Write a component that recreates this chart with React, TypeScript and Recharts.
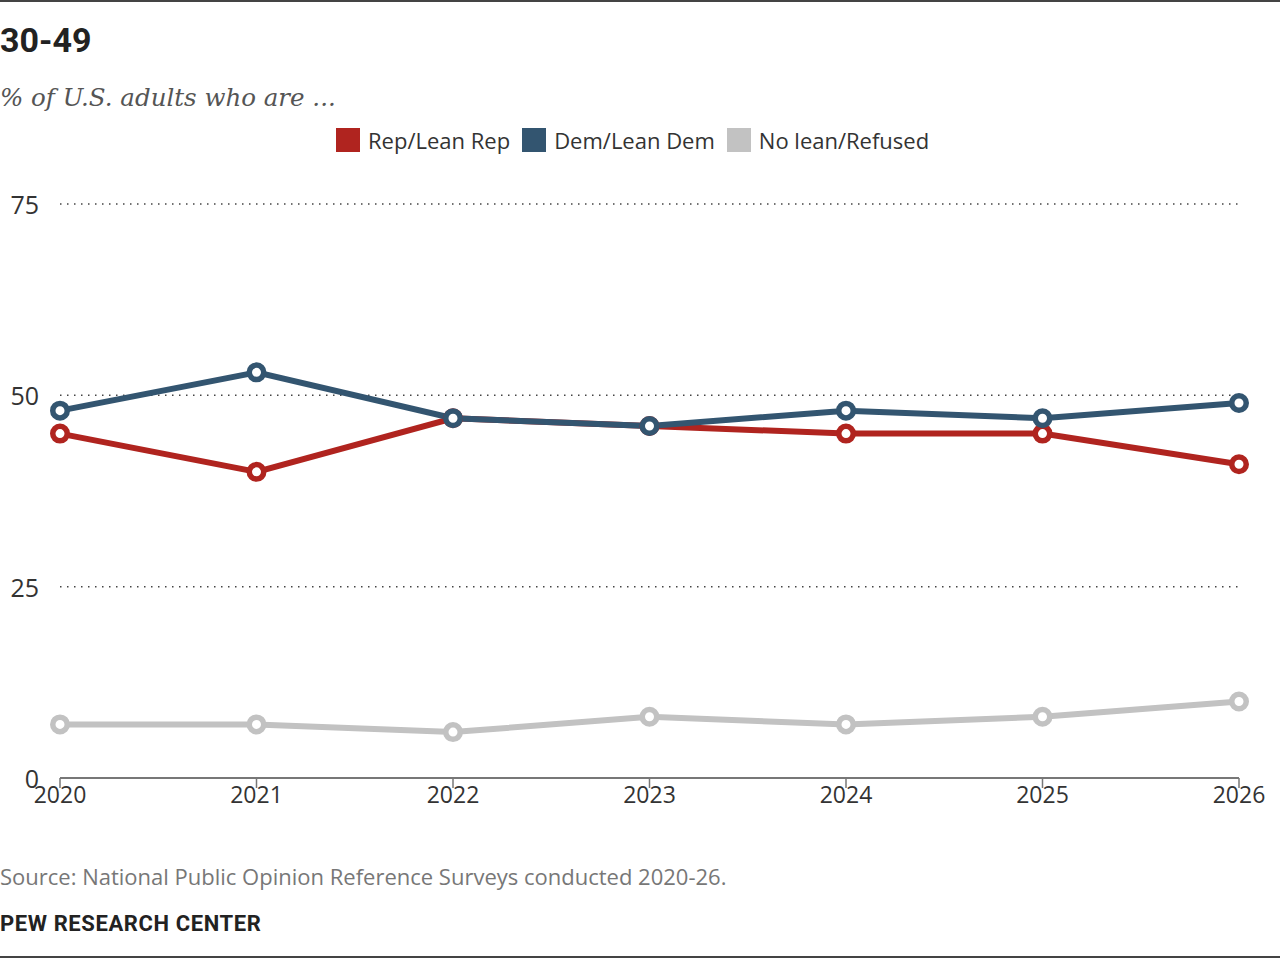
/*
 * Party affiliation among adults ages 30-49, 2020-2026.
 * Three-series line chart in Recharts with hollow point markers.
 */
import { Line, LineChart, ReferenceLine, XAxis, YAxis } from 'recharts';

const years = ['2020', '2021', '2022', '2023', '2024', '2025', '2026'];
const repLean = [45, 40, 47, 46, 45, 45, 41];
const demLean = [48, 53, 47, 46, 48, 47, 49];
const noLean = [7, 7, 6, 8, 7, 8, 10];

const yTicks = [0, 25, 50, 75];
const gridValues = [25, 50, 75];

const series = [
  { key: 'noLean', name: 'No lean/Refused', color: '#C2C2C2' },
  { key: 'rep', name: 'Rep/Lean Rep', color: '#B0241F' },
  { key: 'dem', name: 'Dem/Lean Dem', color: '#335570' },
];
const legendOrder = ['rep', 'dem', 'noLean'];

const data = years.map((year, i) => ({
  year,
  rep: repLean[i],
  dem: demLean[i],
  noLean: noLean[i],
}));

const SANS = '"Open Sans", Roboto, "Liberation Sans", Arial, sans-serif';
const BOLD = 'Roboto, "Liberation Sans", Arial, sans-serif';

// value labels sit right-aligned in the left gutter
function YTick(props: any) {
  return (
    <text
      x={39}
      y={props.y}
      dominantBaseline="central"
      textAnchor="end"
      fontFamily={SANS}
      fontSize={25}
      fill="#333"
    >
      {props.payload.value}
    </text>
  );
}

function XTick(props: any) {
  return (
    <text
      x={props.x}
      y={props.y + 6}
      dominantBaseline="central"
      textAnchor="middle"
      fontFamily={SANS}
      fontSize={23}
      fill="#333"
    >
      {props.payload.value}
    </text>
  );
}

export default function App() {
  return (
    <div
      style={{
        position: 'absolute',
        left: 0,
        top: 0,
        width: 1280,
        height: 958,
        boxSizing: 'border-box',
        borderTop: '2px solid #444',
        borderBottom: '2px solid #444',
        background: '#fff',
        overflow: 'hidden',
      }}
    >
      <div
        style={{
          position: 'absolute',
          left: 0,
          top: 18,
          fontFamily: BOLD,
          fontWeight: 700,
          fontSize: 34,
          color: '#222',
          lineHeight: '40px',
        }}
      >
        30-49
      </div>
      <div
        style={{
          position: 'absolute',
          left: 0,
          top: 80,
          fontFamily: '"DejaVu Serif", Georgia, serif',
          fontStyle: 'italic',
          fontSize: 24.5,
          color: '#555',
          lineHeight: '32px',
        }}
      >
        % of U.S. adults who are ...
      </div>

      {/* legend */}
      <div
        style={{
          position: 'absolute',
          left: 336,
          top: 126,
          display: 'flex',
          alignItems: 'center',
          height: 24,
          fontFamily: SANS,
          fontSize: 22,
          color: '#333',
        }}
      >
        {legendOrder.map((k) => {
          const s = series.find((x) => x.key === k)!;
          return (
            <div key={k} style={{ display: 'flex', alignItems: 'center', marginRight: 12 }}>
              <span style={{ width: 24, height: 24, background: s.color, marginRight: 8 }} />
              <span>{s.name}</span>
            </div>
          );
        })}
      </div>

      <div style={{ position: 'absolute', left: 0, top: -2 }}>
        <LineChart
          width={1280}
          height={830}
          data={data}
          margin={{ top: 204, right: 41, bottom: 0, left: 0 }}
        >
          {gridValues.map((v) => (
            <ReferenceLine
              key={v}
              y={v}
              stroke="#444"
              strokeWidth={1.5}
              strokeDasharray="1.5 5.5"
            />
          ))}
          <YAxis
            type="number"
            domain={[0, 75]}
            ticks={yTicks}
            width={60}
            axisLine={false}
            tickLine={false}
            tick={<YTick />}
            interval={0}
          />
          <XAxis
            dataKey="year"
            height={52}
            interval={0}
            axisLine={{ stroke: '#777', strokeWidth: 2 }}
            tickLine={{ stroke: '#777', strokeWidth: 1.5 }}
            tickSize={10}
            tickMargin={0}
            tick={<XTick />}
          />
          {series.map((s) => (
            <Line
              key={s.key}
              dataKey={s.key}
              name={s.name}
              type="linear"
              stroke={s.color}
              strokeWidth={6}
              dot={{ r: 7.25, fill: '#fff', stroke: s.color, strokeWidth: 5.5 }}
              activeDot={false}
              isAnimationActive={false}
            />
          ))}
        </LineChart>
      </div>

      <div
        style={{
          position: 'absolute',
          left: 0,
          top: 861,
          fontFamily: SANS,
          fontSize: 22,
          color: '#777',
          lineHeight: '26px',
        }}
      >
        Source: National Public Opinion Reference Surveys conducted 2020-26.
      </div>
      <div
        style={{
          position: 'absolute',
          left: 0,
          top: 909,
          fontFamily: BOLD,
          fontWeight: 700,
          fontSize: 22,
          letterSpacing: 0.6,
          color: '#222',
          lineHeight: '26px',
        }}
      >
        PEW RESEARCH CENTER
      </div>
    </div>
  );
}
